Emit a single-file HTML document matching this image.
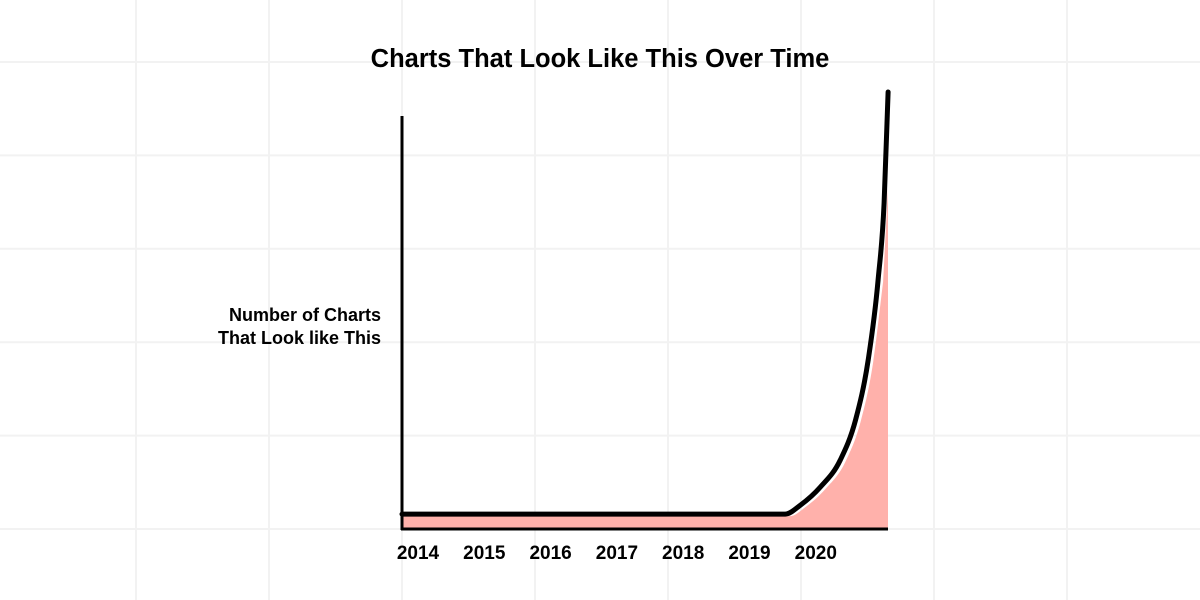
<!DOCTYPE html>
<html><head><meta charset="utf-8"><style>
html,body{margin:0;padding:0;background:#fff;}
svg{display:block;font-family:"Liberation Sans",sans-serif;}
</style></head><body>
<svg id="chart" width="1200" height="600" viewBox="0 0 1200 600">
<g id="grid"></g>
<text x="600" y="67" text-anchor="middle" font-size="25.5" font-weight="bold" fill="#000">Charts That Look Like This Over Time</text>
<text x="381" y="321" text-anchor="end" font-size="18" font-weight="bold" fill="#000"><tspan x="381">Number of Charts</tspan><tspan x="381" dy="23">That Look like This</tspan></text>
<path id="area" fill="#ffb1ab"></path>
<path id="line" fill="none" stroke="#000" stroke-width="5" stroke-linejoin="round" stroke-linecap="round"></path>
<line x1="402" y1="116" x2="402" y2="530" stroke="#000" stroke-width="3"/>
<line x1="401" y1="529" x2="888" y2="529" stroke="#000" stroke-width="3"/>
<g id="ticks"></g>
</svg>
<script>
const tickLabels = ["2014","2015","2016","2017","2018","2019","2020"];
const years = [2013.76,2019.54,2019.77,2020.07,2020.37,2020.60,2020.79,2020.94,2021.03,2021.09];
const values = [3.4,3.4,5.5,9.6,15.8,25,38.7,57,74.6,100];

const xScale = t => 418 + (t - 2014) * 66.3;
const yScale = v => 529 - v * 4.37;
const NS = 'http://www.w3.org/2000/svg';

const grid = document.getElementById('grid');
for (let x = 136; x < 1200; x += 133) {
  const l = document.createElementNS(NS, 'line');
  l.setAttribute('x1', x); l.setAttribute('x2', x); l.setAttribute('y1', 0); l.setAttribute('y2', 600);
  l.setAttribute('stroke', '#f2f2f2'); l.setAttribute('stroke-width', 2);
  
  
  grid.appendChild(l);
}
for (let y = 62; y < 600; y += 93.4) {
  const l = document.createElementNS(NS, 'line');
  l.setAttribute('y1', y); l.setAttribute('y2', y); l.setAttribute('x1', 0); l.setAttribute('x2', 1200);
  l.setAttribute('stroke', '#f2f2f2'); l.setAttribute('stroke-width', 2);
  
  
  grid.appendChild(l);
}

// monotone cubic (like d3.curveMonotoneX)
function smooth(p) {
  const n = p.length;
  const h = [], s = [];
  for (let i = 0; i < n - 1; i++) {
    h.push(p[i + 1][0] - p[i][0]);
    s.push((p[i + 1][1] - p[i][1]) / h[i]);
  }
  const m = new Array(n);
  m[0] = s[0];
  m[n - 1] = s[n - 2];
  for (let i = 1; i < n - 1; i++) {
    const s0 = s[i - 1], s1 = s[i], h0 = h[i - 1], h1 = h[i];
    const pp = (s0 * h1 + s1 * h0) / (h0 + h1);
    m[i] = (Math.sign(s0) + Math.sign(s1)) * Math.min(Math.abs(s0), Math.abs(s1), 0.5 * Math.abs(pp)) || 0;
  }
  let d = 'M' + p[0][0].toFixed(1) + ',' + p[0][1].toFixed(1);
  for (let i = 0; i < n - 1; i++) {
    const dx = h[i] / 3;
    d += 'C' + (p[i][0] + dx).toFixed(1) + ',' + (p[i][1] + m[i] * dx).toFixed(1) + ' ' +
         (p[i + 1][0] - dx).toFixed(1) + ',' + (p[i + 1][1] - m[i + 1] * dx).toFixed(1) + ' ' +
         p[i + 1][0].toFixed(1) + ',' + p[i + 1][1].toFixed(1);
  }
  return d;
}

const pts = years.map((t, i) => [xScale(t), yScale(values[i])]);
pts[0][0] = 402;
document.getElementById('line').setAttribute('d', smooth(pts));

const off = pts.map(p => [p[0] + 5, p[1] + 2]);
off[0][0] = 403;
const cut = off.filter(p => p[0] <= 888);
let d = 'M403,528L' + smooth(cut).slice(1) + 'L888,' + yScale(78).toFixed(1) + 'L888,528Z';
document.getElementById('area').setAttribute('d', d);

const ticks = document.getElementById('ticks');
tickLabels.forEach((lab, i) => {
  const t = document.createElementNS(NS, 'text');
  t.setAttribute('x', xScale(2014 + i));
  t.setAttribute('y', 559);
  t.setAttribute('text-anchor', 'middle');
  t.setAttribute('font-size', '19');
  t.setAttribute('font-weight', 'bold');
  t.textContent = lab;
  
  
  ticks.appendChild(t);
});
</script>
</body></html>
